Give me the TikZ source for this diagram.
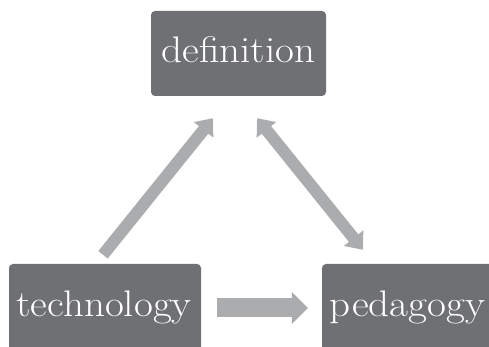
\documentclass[tikz,border=0pt]{standalone}
\usetikzlibrary{arrows.meta,calc}
\definecolor{boxgray}{HTML}{6F7074}
\definecolor{arrgray}{HTML}{ABACAE}
\newcommand{\wid}[1]{\scalebox{1.11}[1]{#1}}
\begin{document}
\begin{tikzpicture}[x=1pt,y=1pt,
  box/.style={fill=boxgray,rounded corners=4pt,text=white,inner sep=0pt,
    font=\fontsize{37}{40}\selectfont,text depth=0pt},
  diag/.style={draw=arrgray,line width=12pt,-{Triangle[width=24pt,length=15pt]}},
  dbl/.style={draw=arrgray,line width=12pt,{Triangle[width=24pt,length=15pt]}-{Triangle[width=24pt,length=15pt]}},
  horiz/.style={draw=arrgray,line width=19pt,-{Triangle[width=31pt,length=16pt]}}]
\useasboundingbox (0,0) rectangle (489,347);
\clip (0,0) rectangle (489,347);
\node[box,minimum width=175pt,minimum height=85pt,text height=19pt] (def) at (238.5,293.5) {\wid{definition}};
\node[box,minimum width=192pt,minimum height=100pt,text height=6pt] (tech) at (105,33) {\kern-2pt\wid{technology}};
\node[box,minimum width=190pt,minimum height=100pt,text height=6pt] (ped) at (417,33) {\kern-19pt\wid{pedagogy}};
\coordinate (a1s) at ($(tech.north)+(-2,9)$);
\coordinate (a1e) at ($(def.south)+(-25.5,-22)$);
\coordinate (a2s) at ($(def.south)+(18.5,-22)$);
\coordinate (a2e) at ($(ped.north)+(-54,14)$);
\coordinate (a3s) at ($(tech.east)+(16,6)$);
\coordinate (a3e) at ($(ped.west)+(-14,6)$);
\draw[diag] (a1s) -- (a1e);
\draw[dbl] (a2s) -- (a2e);
\draw[horiz] (a3s) -- (a3e);
\end{tikzpicture}
\end{document}
